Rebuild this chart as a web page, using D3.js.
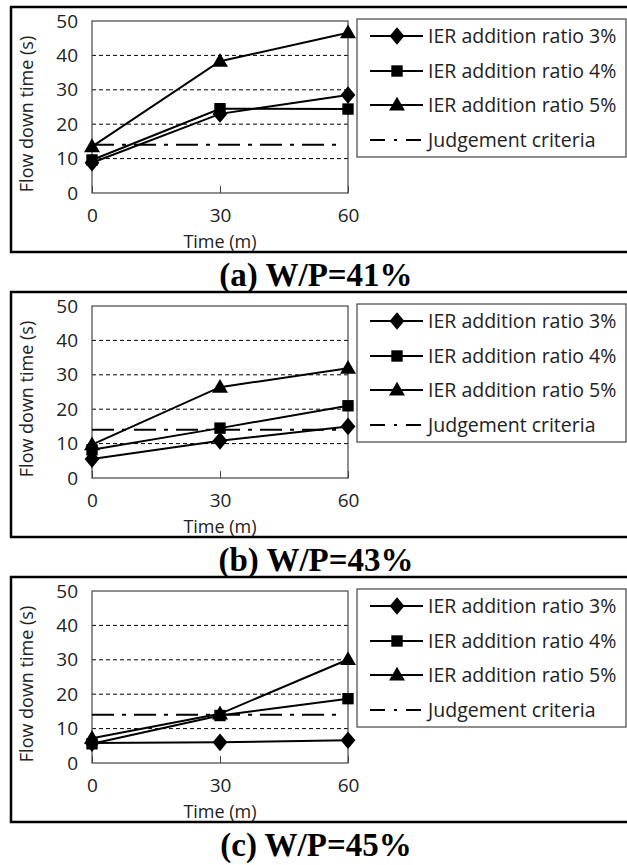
<!DOCTYPE html>
<html>
<head>
<meta charset="utf-8">
<script src="https://cdn.jsdelivr.net/npm/d3@7"></script>
<style>
  body { margin: 0; background: #fff; }
  svg { display: block; }
</style>
</head>
<body>
<div id="chart-area"></div>
<script>
// values
var times = [0, 30, 60];
var seriesNames = ["IER addition ratio 3%", "IER addition ratio 4%", "IER addition ratio 5%"];
var criteriaName = "Judgement criteria";
var captions = ["(a) W/P=41%", "(b) W/P=43%", "(c) W/P=45%"];
var ratio3 = [[8.8, 23, 28.5], [5.5, 10.8, 15], [5.8, 6, 6.6]];
var ratio4 = [[9.6, 24.5, 24.4], [8.2, 14.5, 21], [5.6, 13.8, 18.7]];
var ratio5 = [[13.5, 38.3, 46.6], [9.7, 26.4, 31.9], [7.2, 14.3, 30.1]];
var criteria = 14;
var yTicks = [0, 10, 20, 30, 40, 50];
var gridTicks = [10, 20, 30, 40];

var W = 627, H = 865;
var panelTops = [7, 292, 577];
var panelH = 246;
var plotLeft = 92, plotRight = 348;
var plotTop = 14, plotBottom = 186;
var font = "'Open Sans', 'Noto Sans', sans-serif";

var svg = d3.select("#chart-area")
    .append("svg")
    .attr("width", W)
    .attr("height", H);

var x = d3.scaleLinear().domain([0, 60]).range([plotLeft, plotRight]);
var y = d3.scaleLinear().domain([0, 50]).range([plotBottom, plotTop]);

var symbols = [d3.symbolDiamond, d3.symbolSquare, d3.symbolTriangle];
var symbolSizes = [90, 130, 110];

function drawMarker(g, i, px, py) {
    var sym = d3.symbol().type(symbols[i]).size(symbolSizes[i]);
    var t = "translate(" + px + "," + py + ")";
    if (i === 0) t += " scale(1.45,1)";
    if (i === 2) t += " translate(0,1)";
    g.append("path")
        .attr("d", sym())
        .attr("transform", t)
        .attr("fill", "#000");
}

panelTops.forEach(function(top, p) {
    var g = svg.append("g").attr("transform", "translate(0," + top + ")");

    // outer frame
    g.append("rect")
        .attr("x", 11)
        .attr("y", 0)
        .attr("width", W + 20)
        .attr("height", panelH - 1)
        .attr("fill", "none")
        .attr("stroke", "#000")
        .attr("stroke-width", 2.5);

    // grid
    g.append("g")
        .selectAll("line")
        .data(gridTicks)
        .enter()
        .append("line")
        .attr("x1", plotLeft)
        .attr("x2", plotRight)
        .attr("y1", d => y(d))
        .attr("y2", d => y(d))
        .attr("stroke", "#000")
        .attr("stroke-width", 1)
        .attr("stroke-dasharray", "4,3");

    // plot border
    g.append("rect")
        .attr("x", plotLeft)
        .attr("y", plotTop)
        .attr("width", plotRight - plotLeft)
        .attr("height", plotBottom - plotTop)
        .attr("fill", "none")
        .attr("stroke", "#444")
        .attr("stroke-width", 1.2);

    // y axis
    var yAxis = g.append("g")
        .attr("transform", "translate(" + plotLeft + ",0)")
        .call(d3.axisLeft(y).tickValues(yTicks).tickSize(0).tickPadding(14));
    yAxis.select(".domain").remove();
    yAxis.selectAll("text")
        .attr("font-family", font)
        .attr("font-size", "19px")
        .attr("fill", "#222");

    // x axis
    var xAxis = g.append("g")
        .attr("transform", "translate(0," + plotBottom + ")")
        .call(d3.axisBottom(x).tickValues(times).tickSize(-7).tickPadding(16));
    xAxis.select(".domain").remove();
    xAxis.selectAll("line").attr("stroke", "#444");
    xAxis.selectAll("text")
        .attr("font-family", font)
        .attr("font-size", "19px")
        .attr("fill", "#222");

    g.append("text")
        .attr("x", x(30))
        .attr("y", plotBottom + 55)
        .attr("text-anchor", "middle")
        .attr("font-family", font)
        .attr("font-size", "18px")
        .attr("fill", "#222")
        .text("Time (m)");

    g.append("text")
        .attr("transform", "rotate(-90)")
        .attr("x", -(plotTop + plotBottom) / 2 - 7)
        .attr("y", 33)
        .attr("text-anchor", "middle")
        .attr("font-family", font)
        .attr("font-size", "18px")
        .attr("fill", "#222")
        .text("Flow down time (s)");

    // criteria line
    g.append("line")
        .attr("x1", x(0))
        .attr("x2", x(60) - 4)
        .attr("y1", y(criteria))
        .attr("y2", y(criteria))
        .attr("stroke", "#000")
        .attr("stroke-width", 2)
        .attr("stroke-dasharray", "22,8,4,8");

    // series
    var line = d3.line().x((d, i) => x(times[i])).y(d => y(d));
    [ratio3[p], ratio4[p], ratio5[p]].forEach(function(vals, i) {
        g.append("path")
            .attr("d", line(vals))
            .attr("fill", "none")
            .attr("stroke", "#000")
            .attr("stroke-width", 2);
        vals.forEach(function(v, j) {
            drawMarker(g, i, x(times[j]), y(v));
        });
    });

    // legend
    var lg = g.append("g");
    lg.append("rect")
        .attr("x", 357)
        .attr("y", 12)
        .attr("width", 269)
        .attr("height", 138)
        .attr("fill", "#fff")
        .attr("stroke", "#444")
        .attr("stroke-width", 1.2);
    var rowY = [29, 64, 98, 133];
    seriesNames.forEach(function(name, i) {
        lg.append("line")
            .attr("x1", 370).attr("x2", 423)
            .attr("y1", rowY[i]).attr("y2", rowY[i])
            .attr("stroke", "#000").attr("stroke-width", 2);
        drawMarker(lg, i, 397, rowY[i]);
        lg.append("text")
            .attr("x", 428)
            .attr("y", rowY[i] + 7)
            .attr("font-family", font)
            .attr("font-size", "19.5px")
            .attr("fill", "#222")
            .text(name);
    });
    lg.append("line")
        .attr("x1", 370).attr("x2", 423)
        .attr("y1", rowY[3]).attr("y2", rowY[3])
        .attr("stroke", "#000").attr("stroke-width", 2)
        .attr("stroke-dasharray", "15,9,3,9");
    lg.append("text")
        .attr("x", 428)
        .attr("y", rowY[3] + 7)
        .attr("font-family", font)
        .attr("font-size", "19.5px")
        .attr("fill", "#222")
        .text(criteriaName);

    // caption
    svg.append("text")
        .attr("x", 316)
        .attr("y", top + panelH + 33)
        .attr("text-anchor", "middle")
        .attr("font-family", "'Liberation Serif', 'Times New Roman', serif")
        .attr("font-weight", "bold")
        .attr("font-size", "33px")
        .attr("fill", "#000")
        .text(captions[p]);
});
</script>
</body>
</html>
